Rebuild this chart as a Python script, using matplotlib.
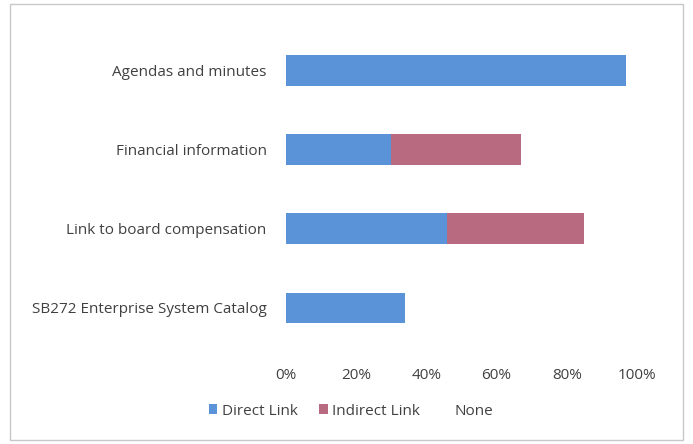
import matplotlib
matplotlib.use("Agg")
import matplotlib.pyplot as plt
from matplotlib.patches import Rectangle
import numpy as np

categories = ["Agendas and minutes", "Financial information",
              "Link to board compensation", "SB272 Enterprise System Catalog"]
direct = [97, 30, 46, 34]
indirect = [0, 37, 39, 0]
none = [3, 33, 15, 66]
series_names = ["Direct Link", "Indirect Link", "None"]
xticks = [0, 20, 40, 60, 80, 100]
xtick_labels = ["0%", "20%", "40%", "60%", "80%", "100%"]

plt.rcParams['font.family'] = ['Open Sans', 'DejaVu Sans']
text_color = "#404040"

fig = plt.figure(figsize=(6.93, 4.44), dpi=100)
fig.patch.set_facecolor("white")
fig.patches.append(Rectangle((10/693, 4/444), 673/693, 436/444, transform=fig.transFigure,
                             fill=False, edgecolor="#c8c8c8", linewidth=1.0))

ax = fig.add_axes([286/693, 1-347.5/444, 351/693, 316.5/444])
y = np.arange(len(categories))
h = 0.39
d = np.array(direct); i = np.array(indirect); n = np.array(none)
ax.barh(y, d, height=h, color="#5b93d8", label=series_names[0])
ax.barh(y, i, left=d, height=h, color="#b86b80", label=series_names[1])
ax.barh(y, n, left=d+i, height=h, color="white", label=series_names[2])

ax.set_xlim(0, 100)
ax.set_ylim(len(categories)-0.5, -0.5)
ax.set_yticks(y)
ax.set_yticklabels(categories, fontsize=11, color=text_color)
ax.set_xticks(xticks)
ax.set_xticklabels(xtick_labels, fontsize=11, color=text_color)
ax.tick_params(axis='both', length=0)
ax.tick_params(axis='y', pad=14)
ax.tick_params(axis='x', pad=15)
for s in ax.spines.values():
    s.set_visible(False)

leg = fig.legend(loc="center", bbox_to_anchor=(351/693, 1-411/444), ncol=3, frameon=False,
                 fontsize=11, handlelength=0.55, handleheight=0.55, handletextpad=0.3,
                 columnspacing=1.4)
for t in leg.get_texts():
    t.set_color(text_color)

fig.savefig("out.png", dpi=100)
